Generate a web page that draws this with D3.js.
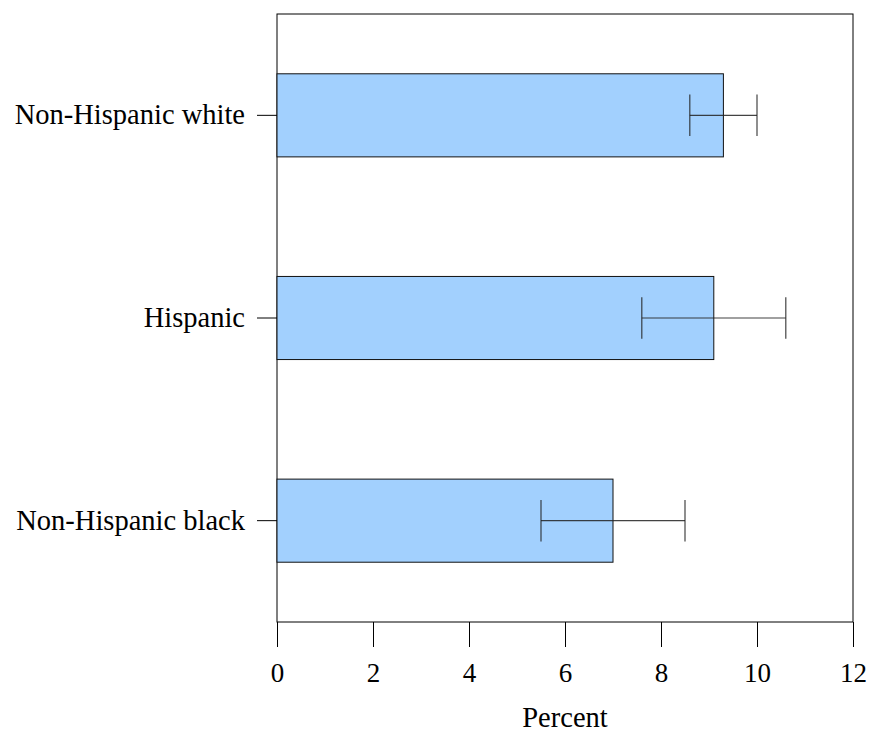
<!DOCTYPE html>
<html><head><meta charset="utf-8">
<script src="https://cdn.jsdelivr.net/npm/d3@7"></script>
<style>body{margin:0;background:#fff}</style>
</head><body>
<svg id="c" width="870" height="732"></svg>
<script>
const categories = ["Non-Hispanic white", "Hispanic", "Non-Hispanic black"];
const values = [9.3, 9.1, 7.0];
const lower = [8.6, 7.6, 5.5];
const upper = [10.0, 10.6, 8.5];
const xTicks = [0, 2, 4, 6, 8, 10, 12];

const svg = d3.select("#c");
const m = {left: 277, right: 853, top: 14, bottom: 622};
const x = d3.scaleLinear().domain([0, 12]).range([m.left, m.right]);
const y = d3.scaleBand().domain(categories).range([m.top, m.bottom]).paddingInner(0.59).paddingOuter(0.295);
const font = "Liberation Serif, serif";

svg.append("rect").attr("x", m.left).attr("y", m.top).attr("width", m.right - m.left).attr("height", m.bottom - m.top)
  .attr("fill", "#fff").attr("stroke", "#000").attr("stroke-width", 1);

const data = categories.map((c, i) => ({c, v: values[i], lo: lower[i], hi: upper[i]}));

svg.selectAll("rect.bar").data(data).join("rect").attr("class", "bar")
  .attr("x", x(0)).attr("y", d => y(d.c)).attr("width", d => x(d.v) - x(0)).attr("height", y.bandwidth())
  .attr("fill", "#a2d0fe").attr("stroke", "#111").attr("stroke-width", 1);

const eb = svg.selectAll("g.eb").data(data).join("g").attr("class", "eb")
  .attr("stroke", "#222").attr("stroke-width", 1.2).attr("stroke-opacity", 0.85);
eb.append("line").attr("x1", d => x(d.lo)).attr("x2", d => x(d.hi))
  .attr("y1", d => y(d.c) + y.bandwidth() / 2).attr("y2", d => y(d.c) + y.bandwidth() / 2);
eb.append("line").attr("x1", d => x(d.lo)).attr("x2", d => x(d.lo))
  .attr("y1", d => y(d.c) + y.bandwidth() / 4).attr("y2", d => y(d.c) + y.bandwidth() * 3 / 4);
eb.append("line").attr("x1", d => x(d.hi)).attr("x2", d => x(d.hi))
  .attr("y1", d => y(d.c) + y.bandwidth() / 4).attr("y2", d => y(d.c) + y.bandwidth() * 3 / 4);

const xAxis = svg.append("g").attr("transform", `translate(0,${m.bottom})`)
  .call(d3.axisBottom(x).tickValues(xTicks).tickSize(25).tickPadding(16));
xAxis.select(".domain").remove();
xAxis.selectAll("text").attr("font-family", font).attr("font-size", 27).attr("fill", "#000");

const yAxis = svg.append("g").attr("transform", `translate(${m.left},0)`)
  .call(d3.axisLeft(y).tickSize(20).tickPadding(12));
yAxis.select(".domain").remove();
yAxis.selectAll("text").attr("font-family", font).attr("font-size", 28.5).attr("fill", "#000");

svg.append("text").attr("x", 565).attr("y", 727).attr("text-anchor", "middle")
  .attr("font-family", font).attr("font-size", 28.5).text("Percent");
</script>
</body></html>
